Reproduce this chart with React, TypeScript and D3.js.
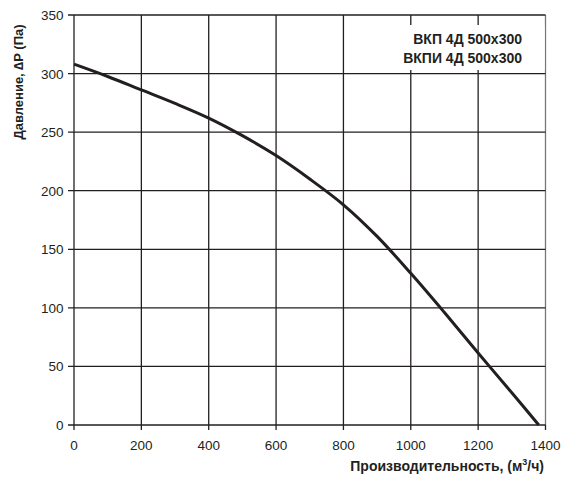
import React from "react";
import * as d3 from "d3";

const flowValues = [0, 100, 200, 300, 400, 500, 600, 700, 800, 900, 1000, 1100, 1200, 1300, 1380];
const pressureValues = [308, 297.5, 286, 274.5, 262, 247, 230, 210, 188, 161, 129.5, 96, 61.5, 27.5, 0];
const xTicks = [0, 200, 400, 600, 800, 1000, 1200, 1400];
const yTicks = [0, 50, 100, 150, 200, 250, 300, 350];
const legendLines = ["ВКП 4Д 500x300", "ВКПИ 4Д 500x300"];
const xTitle = "Производительность, (м";
const yTitle = "Давление, ∆P (Па)";

export default function App() {
  const W = 563, H = 480;
  const left = 74, right = 545.5, top = 15, bottom = 425;
  const x = d3.scaleLinear().domain([0, 1400]).range([left, right]);
  const y = d3.scaleLinear().domain([0, 350]).range([bottom, top]);
  const data = flowValues.map((f, i) => [f, pressureValues[i]] as [number, number]);
  const line = d3.line<[number, number]>().x(d => x(d[0])).y(d => y(d[1])).curve(d3.curveCatmullRom.alpha(0.5));
  const ink = "#231f20";
  const font = "Liberation Sans, Arial, sans-serif";
  return (
    <svg width={W} height={H} style={{ position: "absolute", left: 0, top: 0, background: "#fff" }} fontFamily={font}>
      <rect x={0} y={0} width={W} height={H} fill="#fff" />
      {xTicks.map(t => (
        <line key={"gx" + t} x1={x(t)} x2={x(t)} y1={top} y2={bottom + (t === 1400 ? 0 : 5)} stroke={t === 1400 ? "#777" : ink} strokeWidth={1.3} />
      ))}
      {yTicks.map(t => (
        <line key={"gy" + t} x1={left - 6} x2={right} y1={y(t)} y2={y(t)} stroke={ink} strokeWidth={1.3} />
      ))}
      <line x1={right} x2={right} y1={bottom} y2={bottom + 5} stroke={ink} strokeWidth={1.3} />
      <rect x={400} y={25} width={right - 401} height={45} fill="#fff" />
      {legendLines.map((s, i) => (
        <text key={s} x={522} y={43.5 + i * 19} textAnchor="end" fontSize={14} fontWeight="bold" fill={ink}>{s}</text>
      ))}
      <path d={line(data) || ""} fill="none" stroke={ink} strokeWidth={3} />
      {xTicks.map(t => (
        <text key={"tx" + t} x={x(t)} y={450} textAnchor="middle" fontSize={13.5} fill={ink}>{t}</text>
      ))}
      {yTicks.map(t => (
        <text key={"ty" + t} x={63.5} y={y(t) + 5} textAnchor="end" fontSize={13.5} fill={ink}>{t}</text>
      ))}
      <text x={544} y={471} textAnchor="end" fontSize={14} fontWeight="bold" fill={ink}>
        {xTitle}<tspan fontSize={9} dy={-6}>3</tspan><tspan dy={6}>/ч)</tspan>
      </text>
      <text transform={`translate(23,82) rotate(-90)`} textAnchor="middle" fontSize={13} fontWeight="bold" fill={ink}>{yTitle}</text>
    </svg>
  );
}
